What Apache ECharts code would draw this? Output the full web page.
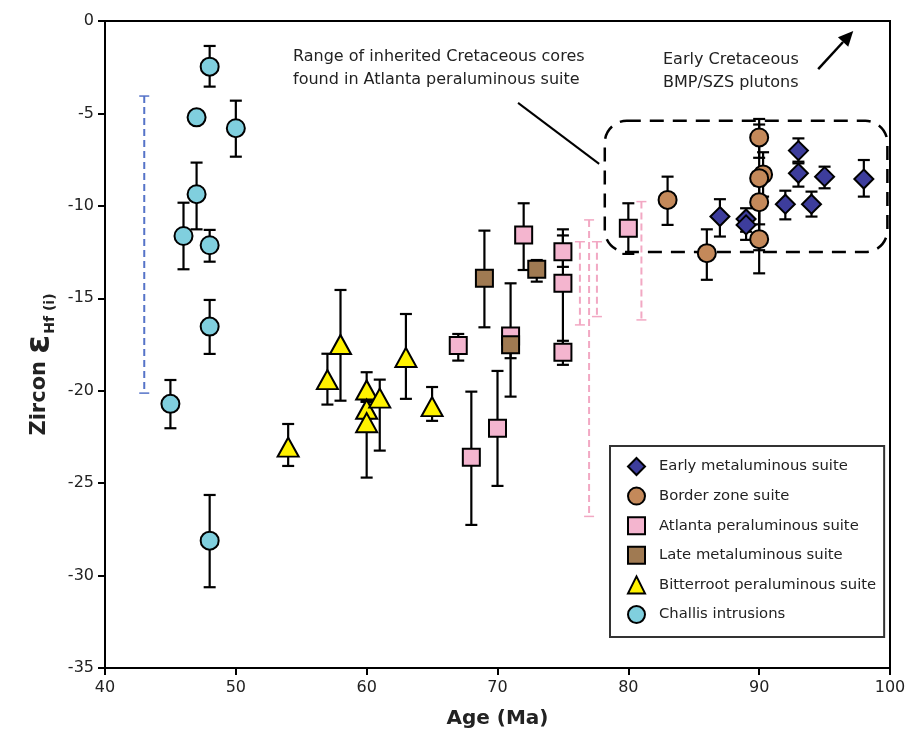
<!DOCTYPE html>
<html>
<head>
<meta charset="utf-8">
<script src="https://cdn.jsdelivr.net/npm/echarts@6/dist/echarts.min.js"></script>
<style>
  html, body { margin: 0; padding: 0; background: #fff; }
  #chart { width: 908px; height: 731px; }
</style>
</head>
<body>
<div id="chart"></div>
<script>
// [age, eHf, error top, error bottom]
const earlyMetaluminous = [
  [87, -10.58, -9.64, -11.66],
  [89, -10.71, -10.13, -11.4],
  [89, -11.03, -10.5, -11.84],
  [92, -9.91, -9.18, -10.73],
  [93, -7.01, -6.35, -7.61],
  [93, -8.24, -7.7, -8.96],
  [94, -9.91, -9.23, -10.58],
  [95, -8.42, -7.88, -9.05],
  [98, -8.55, -7.52, -9.5]
]
const borderZone = [
  [83, -9.68, -8.42, -11.03],
  [86, -12.56, -11.27, -14.0],
  [90, -6.3, -5.3, -7.4],
  [90.3, -8.3, -7.1, -9.5],
  [90, -8.5, -5.6, -11.0],
  [90, -9.8, -8.9, -12.4],
  [90, -11.8, -10.0, -13.65]
]
const atlantaPeraluminous = [
  [67, -17.56, -16.93, -18.37],
  [68, -23.6, -20.05, -27.26],
  [70, -22.03, -18.93, -25.15],
  [71, -17.04, -14.19, -18.24],
  [72, -11.57, -9.86, -13.47],
  [75, -12.48, -11.27, -13.3],
  [75, -14.19, -11.6, -17.5],
  [75, -17.92, -17.3, -18.6],
  [80, -11.21, -9.86, -12.6]
]
const lateMetaluminous = [
  [69, -13.92, -11.34, -16.57],
  [71, -17.52, -16.9, -20.32],
  [73, -13.43, -12.93, -14.1]
]
const bitterrootPeraluminous = [
  [54, -23.05, -21.8, -24.07],
  [57, -19.4, -18.0, -20.75],
  [58, -17.5, -14.55, -20.54],
  [60, -19.96, -19.0, -20.6],
  [60, -21.0, -20.5, -21.5],
  [60, -21.73, -20.6, -24.7],
  [61, -20.4, -19.4, -23.24],
  [63, -18.2, -15.85, -20.44],
  [65, -20.86, -19.8, -21.63]
]
const challisIntrusions = [
  [45, -20.71, -19.42, -22.03],
  [46, -11.63, -9.83, -13.43],
  [47, -5.21, -5.0, -5.45],
  [47, -9.37, -7.66, -11.27],
  [48, -2.47, -1.35, -3.55],
  [48, -12.13, -11.3, -13.02],
  [48, -16.53, -15.09, -18.01],
  [48, -28.11, -25.64, -30.63],
  [50, -5.8, -4.31, -7.34]
]
// inherited core ranges [age, top, bottom]
const atlantaInheritedRanges = [
  [76.3, -11.94, -16.44],
  [77, -10.76, -26.8],
  [77.6, -11.94, -15.99],
  [81, -9.77, -16.17]
]
const challisRange = [[43, -4.06, -20.13]]

// annotations [x1, y1, x2, y2] in data units
const plutonBox = [[78.2, -5.4, 99.8, -12.5]]
const pointerLine = [[71.57, -4.43, 77.77, -7.73]]
const plutonArrow = [[94.51, -2.6, 97.19, -0.54]]

const xTicks = { min: 40, max: 100, interval: 10 }
const yTicks = { min: -35, max: 0, interval: 5 }

const groups = [
  { name: 'Early metaluminous suite', data: earlyMetaluminous, symbol: 'diamond', size: 19, color: '#3D3D9C' },
  { name: 'Border zone suite', data: borderZone, symbol: 'circle', size: 18, color: '#C4895A' },
  { name: 'Atlanta peraluminous suite', data: atlantaPeraluminous, symbol: 'rect', size: 17, color: '#F4B5CF' },
  { name: 'Late metaluminous suite', data: lateMetaluminous, symbol: 'rect', size: 17, color: '#A07A52' },
  { name: 'Bitterroot peraluminous suite', data: bitterrootPeraluminous, symbol: 'triangle', size: [21, 19], color: '#FFF200' },
  { name: 'Challis intrusions', data: challisIntrusions, symbol: 'circle', size: 18, color: '#80CFDE' }
]

const FONT = "'DejaVu Sans', sans-serif"

function errorBar(params, api) {
  const x = api.value(0)
  const top = api.coord([x, api.value(2)])
  const bot = api.coord([x, api.value(3)])
  const hw = 6
  const st = { stroke: '#000', lineWidth: 2.2 }
  return {
    type: 'group',
    children: [
      { type: 'line', shape: { x1: top[0], y1: top[1], x2: bot[0], y2: bot[1] }, style: st },
      { type: 'line', shape: { x1: top[0] - hw, y1: top[1], x2: top[0] + hw, y2: top[1] }, style: st },
      { type: 'line', shape: { x1: bot[0] - hw, y1: bot[1], x2: bot[0] + hw, y2: bot[1] }, style: st }
    ]
  }
}

function dashedRange(color) {
  return function (params, api) {
    const x = api.value(0)
    const top = api.coord([x, api.value(1)])
    const bot = api.coord([x, api.value(2)])
    const hw = 5
    return {
      type: 'group',
      children: [
        { type: 'line', shape: { x1: top[0], y1: top[1], x2: bot[0], y2: bot[1] },
          style: { stroke: color, lineWidth: 2, lineDash: [7, 4] } },
        { type: 'line', shape: { x1: top[0] - hw, y1: top[1], x2: top[0] + hw, y2: top[1] },
          style: { stroke: color, lineWidth: 1.5 } },
        { type: 'line', shape: { x1: bot[0] - hw, y1: bot[1], x2: bot[0] + hw, y2: bot[1] },
          style: { stroke: color, lineWidth: 1.5 } }
      ]
    }
  }
}

const series = []
groups.forEach(g => {
  series.push({
    type: 'custom',
    name: g.name + ' err',
    renderItem: errorBar,
    data: g.data,
    encode: { x: 0, y: [2, 3] },
    z: 2,
    silent: true
  })
})
series.push({
  type: 'custom', name: 'inherited', renderItem: dashedRange('#F2A8C3'),
  data: atlantaInheritedRanges, encode: { x: 0, y: [1, 2] }, z: 1, silent: true
})
series.push({
  type: 'custom', name: 'challis range', renderItem: dashedRange('#5573C8'),
  data: challisRange, encode: { x: 0, y: [1, 2] }, z: 1, silent: true
})
series.push({
  type: 'custom', name: 'box',
  renderItem: function (params, api) {
    const p1 = api.coord([api.value(0), api.value(1)])
    const p2 = api.coord([api.value(2), api.value(3)])
    return {
      type: 'rect',
      shape: { x: p1[0], y: p1[1], width: p2[0] - p1[0], height: p2[1] - p1[1], r: 22 },
      style: { fill: 'none', stroke: '#000', lineWidth: 2.5, lineDash: [14, 9] }
    }
  },
  data: plutonBox, encode: { x: [0, 2], y: [1, 3] }, z: 1, silent: true
})
series.push({
  type: 'custom', name: 'pointer',
  renderItem: function (params, api) {
    const p1 = api.coord([api.value(0), api.value(1)])
    const p2 = api.coord([api.value(2), api.value(3)])
    return { type: 'line', shape: { x1: p1[0], y1: p1[1], x2: p2[0], y2: p2[1] },
      style: { stroke: '#000', lineWidth: 2 } }
  },
  data: pointerLine, encode: { x: [0, 2], y: [1, 3] }, z: 1, silent: true
})
series.push({
  type: 'custom', name: 'arrow',
  renderItem: function (params, api) {
    const p1 = api.coord([api.value(0), api.value(1)])
    const p2 = api.coord([api.value(2), api.value(3)])
    const dx = p2[0] - p1[0], dy = p2[1] - p1[1]
    const len = Math.sqrt(dx * dx + dy * dy)
    const ux = dx / len, uy = dy / len
    const hl = 15, hw = 7
    const bx = p2[0] - ux * hl, by = p2[1] - uy * hl
    return {
      type: 'group',
      children: [
        { type: 'line', shape: { x1: p1[0], y1: p1[1], x2: bx, y2: by },
          style: { stroke: '#000', lineWidth: 2.5 } },
        { type: 'polygon', shape: { points: [
          [p2[0], p2[1]],
          [bx - uy * hw, by + ux * hw],
          [bx + uy * hw, by - ux * hw]
        ] }, style: { fill: '#000' } }
      ]
    }
  },
  data: plutonArrow, encode: { x: [0, 2], y: [1, 3] }, z: 1, silent: true
})
groups.forEach(g => {
  series.push({
    type: 'scatter',
    name: g.name,
    data: g.data.map(d => [d[0], d[1]]),
    symbol: g.symbol,
    symbolSize: g.size,
    itemStyle: { color: g.color, borderColor: '#000', borderWidth: 2, opacity: 1 },
    z: 3
  })
})

const chart = echarts.init(document.getElementById('chart'))
chart.setOption({
  animation: false,
  backgroundColor: '#fff',
  grid: {
    left: 105, right: 18, top: 21, bottom: 63,
    outerBoundsMode: 'none', containLabel: false,
    show: true, borderColor: '#000', borderWidth: 2
  },
  xAxis: {
    type: 'value',
    min: xTicks.min, max: xTicks.max, interval: xTicks.interval,
    name: 'Age (Ma)', nameLocation: 'middle', nameGap: 41,
    nameTextStyle: { fontFamily: FONT, fontSize: 20, fontWeight: 'bold', color: '#222' },
    axisLine: { onZero: false, lineStyle: { color: '#000', width: 2 } },
    axisTick: { inside: false, length: 7, lineStyle: { color: '#000', width: 2 } },
    axisLabel: { fontFamily: FONT, fontSize: 16, color: '#222', margin: 12 },
    splitLine: { show: false }
  },
  yAxis: {
    type: 'value',
    min: yTicks.min, max: yTicks.max, interval: yTicks.interval,
    name: '{z|Zircon }{e|ε}{s|Hf (i)}',
    nameLocation: 'middle', nameRotate: 90, nameGap: 44,
    nameTextStyle: {
      color: '#222',
      rich: {
        z: { fontFamily: FONT, fontSize: 21, fontWeight: 'bold', color: '#222' },
        e: { fontFamily: FONT, fontSize: 34, fontWeight: 'bold', color: '#222' },
        s: { fontFamily: FONT, fontSize: 14, fontWeight: 'bold', color: '#222', verticalAlign: 'bottom', padding: [0, 40, 0, 1] }
      }
    },
    axisLine: { onZero: false, lineStyle: { color: '#000', width: 2 } },
    axisTick: { inside: false, length: 7, lineStyle: { color: '#000', width: 2 } },
    axisLabel: { fontFamily: FONT, fontSize: 16, color: '#222', margin: 11 },
    splitLine: { show: false }
  },
  legend: {
    data: groups.map(g => g.name),
    orient: 'vertical',
    left: 610, top: 446,
    padding: [11, 8, 13, 17],
    itemWidth: 17, itemHeight: 17, itemGap: 10.6,
    borderColor: '#333', borderWidth: 2,
    backgroundColor: '#fff',
    textStyle: { fontFamily: FONT, fontSize: 14.8, lineHeight: 18, color: '#222', padding: [0, 0, 0, 9] },
    selectedMode: false
  },
  graphic: [
    {
      type: 'text', left: 293, top: 45,
      style: {
        text: 'Range of inherited Cretaceous cores\nfound in Atlanta peraluminous suite',
        fontFamily: FONT, fontSize: 16, lineHeight: 23, fill: '#222'
      }
    },
    {
      type: 'text', left: 663, top: 48,
      style: {
        text: 'Early Cretaceous\nBMP/SZS plutons',
        fontFamily: FONT, fontSize: 16, lineHeight: 23, fill: '#222'
      }
    }
  ],
  series: series
})
</script>
</body>
</html>
